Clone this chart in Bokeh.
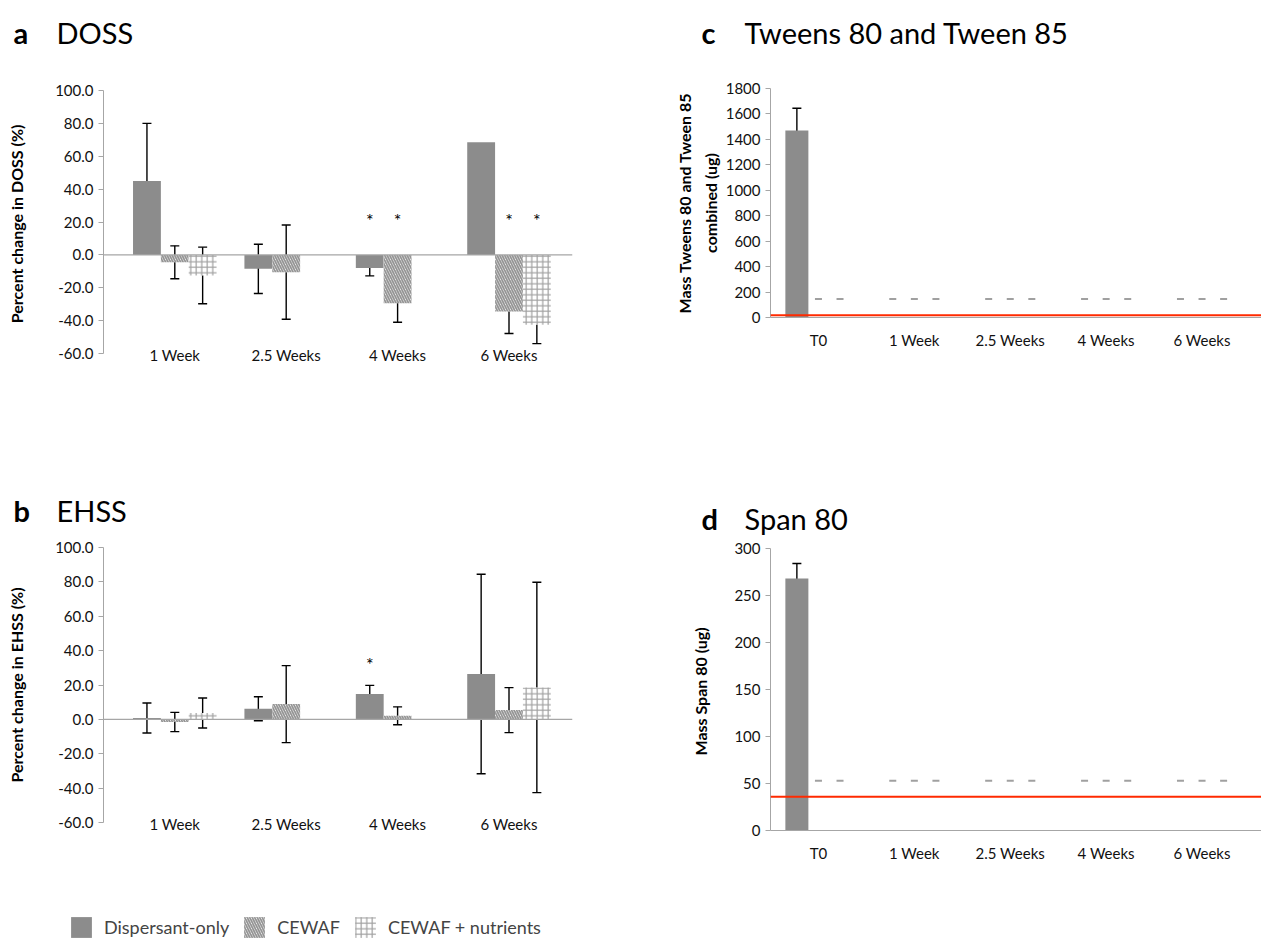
import numpy as np
from bokeh.plotting import figure
from bokeh.models import (Range1d, FixedTicker, PrintfTickFormatter, Span, Whisker, TeeHead,
                          ColumnDataSource, Legend, LegendItem)
from bokeh.layouts import column, row
from bokeh.embed import file_html
from bokeh.resources import INLINE
from bokeh.core.properties import value

FONT = "Lato"

# ---------------- data ----------------
weeks = ["1 Week", "2.5 Weeks", "4 Weeks", "6 Weeks"]
mass_cats = ["T0", "1 Week", "2.5 Weeks", "4 Weeks", "6 Weeks"]
series_names = ["Dispersant-only", "CEWAF", "CEWAF + nutrients"]

# a: DOSS percent change
doss_disp = [45.0, -8.5, -8.0, 68.5]
doss_disp_err = [35.0, 15.0, 4.8, np.nan]
doss_cewaf = [-4.5, -10.5, -29.5, -34.5]
doss_cewaf_err = [10.0, 28.7, 11.5, 13.3]
doss_nutr = [-12.5, np.nan, np.nan, -42.5]
doss_nutr_err = [17.2, np.nan, np.nan, 11.5]
doss_star_cat = ["4 Weeks", "4 Weeks", "6 Weeks", "6 Weeks"]
doss_star_series = ["Dispersant-only", "CEWAF", "CEWAF", "CEWAF + nutrients"]
doss_star_y = 21.0

# b: EHSS percent change
ehss_disp = [0.8, 6.2, 14.8, 26.4]
ehss_disp_err = [8.7, 7.0, 5.0, 58.0]
ehss_cewaf = [-1.5, 8.9, 2.1, 5.4]
ehss_cewaf_err = [5.6, 22.4, 5.2, 13.1]
ehss_nutr = [3.7, np.nan, np.nan, 18.6]
ehss_nutr_err = [8.7, np.nan, np.nan, 61.2]
ehss_star_cat = ["4 Weeks"]
ehss_star_series = ["Dispersant-only"]
ehss_star_y = 32.0

# c: Tweens 80 + 85 mass (ug)
tween_disp = [1470.0, np.nan, np.nan, np.nan, np.nan]
tween_disp_err = [175.0, np.nan, np.nan, np.nan, np.nan]
tween_nd_level = 145.0          # "- - -" markers (not detected)
tween_limit = 17.0              # red line
# d: Span 80 mass (ug)
span_disp = [268.0, np.nan, np.nan, np.nan, np.nan]
span_disp_err = [16.0, np.nan, np.nan, np.nan, np.nan]
span_nd_level = 53.0
span_limit = 36.0

# not-detected slots (category, series) for c and d
nd_cat = ["T0", "T0"] + [c for c in mass_cats[1:] for _ in range(3)]
nd_series = ["CEWAF", "CEWAF + nutrients"] + series_names * 4

# ---------------- styles ----------------
GRAY_AX = "#a6a6a6"
styles = {
    "Dispersant-only": dict(fill_color="#8c8c8c", line_color=None),
    "CEWAF": dict(fill_color="white", line_color=None, hatch_pattern="left_diagonal_line",
                  hatch_color="#959595", hatch_weight=1.8, hatch_scale=5),
    "CEWAF + nutrients": dict(fill_color="white", line_color=None, hatch_pattern="cross",
                              hatch_color="#a0a0a0", hatch_weight=1.2, hatch_scale=5.5),
}
ab_offset = {"Dispersant-only": -0.25, "CEWAF": 0.0, "CEWAF + nutrients": 0.25}
cd_offset = {"Dispersant-only": -0.225, "CEWAF": 0.0, "CEWAF + nutrients": 0.225}


def base_fig(w, h, l, r, t, b, xr, yr):
    p = figure(width=w, height=h, min_border_left=l, min_border_right=r,
               min_border_top=t, min_border_bottom=b, x_range=xr, y_range=yr,
               output_backend="svg", toolbar_location=None)
    p.frame_align = False
    p.outline_line_color = None
    p.xgrid.visible = False
    p.ygrid.visible = False
    return p


def style_left(p, ticks, fmt, label, standoff):
    ax = p.yaxis[0]
    ax.ticker = FixedTicker(ticks=ticks)
    if fmt:
        ax.formatter = PrintfTickFormatter(format=fmt)
    ax.axis_line_color = GRAY_AX
    ax.major_tick_line_color = GRAY_AX
    ax.major_tick_out = 5
    ax.major_tick_in = 0
    ax.minor_tick_line_color = None
    ax.major_label_text_font = FONT
    ax.major_label_text_font_size = "15px"
    ax.major_label_text_color = "#111111"
    ax.major_label_standoff = 5
    ax.axis_label = label
    ax.axis_label_text_font = FONT
    ax.axis_label_text_font_style = "bold"
    ax.axis_label_text_font_size = "16px"
    ax.axis_label_text_line_height = 1.35
    ax.axis_label_text_color = "#000000"
    ax.axis_label_standoff = standoff


def style_bottom(p, cats, line, standoff):
    ax = p.xaxis[0]
    ax.ticker = FixedTicker(ticks=list(range(1, len(cats) + 1)))
    ax.major_label_overrides = {i + 1: c for i, c in enumerate(cats)}
    ax.axis_line_color = GRAY_AX if line else None
    ax.major_tick_line_color = None
    ax.minor_tick_line_color = None
    ax.major_label_text_font = FONT
    ax.major_label_text_font_size = "15px"
    ax.major_label_text_color = "#111111"
    ax.major_label_standoff = standoff


def series_points(vals, errs, offset):
    xs, tops, ex, up, lo = [], [], [], [], []
    for i, (v, e) in enumerate(zip(vals, errs)):
        if np.isnan(v):
            continue
        x = i + 1 + offset
        xs.append(x)
        tops.append(v)
        if not np.isnan(e):
            ex.append(x)
            up.append(v + e)
            lo.append(v - e)
    return xs, tops, ex, up, lo


def add_series(p, vals, errs, offset, width, style):
    xs, tops, ex, up, lo = series_points(vals, errs, offset)
    r = p.vbar(x=xs, top=tops, bottom=0, width=width, **style)
    if ex:
        src = ColumnDataSource(dict(x=ex, upper=up, lower=lo))
        p.add_layout(Whisker(source=src, base="x", upper="upper", lower="lower",
                             line_color="black", line_width=1.4,
                             upper_head=TeeHead(size=9, line_color="black", line_width=1.4),
                             lower_head=TeeHead(size=9, line_color="black", line_width=1.4)))
    return r


def add_stars(p, cats, star_cat, star_series, y):
    xs = [cats.index(c) + 1 + ab_offset[s] for c, s in zip(star_cat, star_series)]
    p.text(x=xs, y=[y] * len(xs), text=["*"] * len(xs), text_font=value(FONT),
           text_font_size="18px", text_align="center", text_baseline="middle",
           text_color="black")


def pct_panel(w, h, t, b, disp, disp_e, cew, cew_e, nut, nut_e, label, star_cat, star_series, star_y):
    p = base_fig(w, h, 103, 58, t, b, Range1d(0.36, 4.57), Range1d(-60, 100))
    style_left(p, list(range(-60, 101, 20)), "%.1f", label, 26)
    style_bottom(p, weeks, False, -14)
    for name, v, e in [("Dispersant-only", disp, disp_e), ("CEWAF", cew, cew_e),
                       ("CEWAF + nutrients", nut, nut_e)]:
        add_series(p, v, e, ab_offset[name], 0.25, styles[name])
    p.add_layout(Span(location=0, dimension="width", line_color=GRAY_AX, line_width=1.2))
    add_stars(p, weeks, star_cat, star_series, star_y)
    return p


def mass_panel(w, h, l, t, b, xend, disp, disp_e, ymax, step, label, standoff, nd_level, limit):
    p = base_fig(w, h, l, 0, t, b, Range1d(0.5, xend), Range1d(0, ymax))
    style_left(p, list(range(0, ymax + 1, step)), None, label, standoff)
    style_bottom(p, mass_cats, True, 7)
    add_series(p, disp, disp_e, cd_offset["Dispersant-only"], 0.24, styles["Dispersant-only"])
    ndx = [mass_cats.index(c) + 1 + cd_offset[s] for c, s in zip(nd_cat, nd_series)]
    p.scatter(x=ndx, y=[nd_level] * len(ndx), marker="dash", size=7,
              line_color="#a0a0a0", line_width=2)
    p.add_layout(Span(location=limit, dimension="width", line_color="#ff2a00", line_width=2))
    return p


# ---------------- panels ----------------
fa = pct_panel(630, 410, 30, 117, doss_disp, doss_disp_err, doss_cewaf, doss_cewaf_err,
               doss_nutr, doss_nutr_err, "Percent change in DOSS  (%)",
               doss_star_cat, doss_star_series, doss_star_y)
fb = pct_panel(630, 344, 11, 58, ehss_disp, ehss_disp_err, ehss_cewaf, ehss_cewaf_err,
               ehss_nutr, ehss_nutr_err, "Percent change in EHSS (%)",
               ehss_star_cat, ehss_star_series, ehss_star_y)
fc = mass_panel(631, 410, 140, 28, 153, 5.62, tween_disp, tween_disp_err, 1800, 200,
                "Mass Tweens 80 and Tween 85\ncombined (ug)", 3, tween_nd_level, tween_limit)
fd = mass_panel(631, 344, 140, 12, 50, 5.62, span_disp, span_disp_err, 300, 50,
                "Mass Span 80  (ug)", 21, span_nd_level, span_limit)


def blank(w, h, xr, yr):
    p = figure(width=w, height=h, x_range=xr, y_range=yr,
               min_border=0, output_backend="svg", toolbar_location=None,
               x_axis_location=None, y_axis_location=None)
    p.frame_align = False
    p.outline_line_color = None
    p.grid.visible = False
    return p


def strip(h, items):
    p = blank(1261, h, Range1d(0, 1261), Range1d(h, 0))
    for x, y, txt, bold in items:
        p.text(x=[x], y=[y], text=[txt], text_font=value(FONT),
               text_font_size="29px", text_font_style="bold" if bold else "normal",
               text_align="left", text_baseline="middle", text_color="black")
    return p


top_strip = strip(60, [(13, 32, "a", True), (56, 32, "DOSS", False),
                       (701, 32, "c", True), (744, 32, "Tweens 80 and Tween 85", False)])
mid_strip = strip(66, [(13, 40, "b", True), (56, 40, "EHSS", False),
                       (701, 48, "d", True), (744, 48, "Span 80", False)])

# ---------------- legend (series styles; renderers hidden, only keys shown) ----------------
lg = blank(1261, 60, Range1d(0.36, 4.57), Range1d(-60, 100))
items = []
for name, vals, errs in [("Dispersant-only", ehss_disp, ehss_disp_err),
                         ("CEWAF", ehss_cewaf, ehss_cewaf_err),
                         ("CEWAF + nutrients", ehss_nutr, ehss_nutr_err)]:
    xs, tops, _, _, _ = series_points(vals, errs, ab_offset[name])
    r = lg.vbar(x=xs, top=tops, bottom=0, width=0.25, visible=False, **styles[name])
    items.append(LegendItem(label=name, renderers=[r]))
legend = Legend(items=items, orientation="horizontal", location=(68, 0),
                border_line_color=None, background_fill_alpha=0,
                inactive_fill_alpha=0,
                glyph_width=26, glyph_height=26, label_text_font=FONT,
                label_text_font_size="18px", label_standoff=10, spacing=12,
                padding=0, margin=0, label_height=26)
lg.add_layout(legend, "center")

layout = column(top_strip, row(fa, fc), mid_strip, row(fb, fd), lg)

open("out.html", "w").write(file_html(layout, INLINE))
